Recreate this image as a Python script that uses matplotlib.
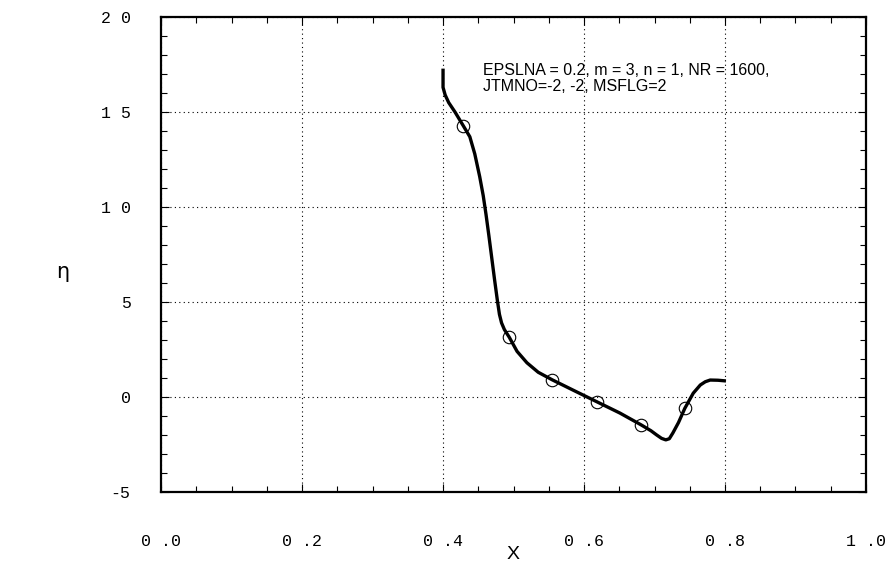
import matplotlib
matplotlib.use("Agg")
import matplotlib.pyplot as plt
from matplotlib.ticker import MultipleLocator

# eta(x) profile, sampled along the solid curve
x_curve = [0.400, 0.400, 0.403, 0.408, 0.417, 0.429, 0.438, 0.445, 0.452,
           0.457, 0.461, 0.465, 0.469, 0.473, 0.477, 0.480, 0.483, 0.487,
           0.494, 0.505, 0.519, 0.535, 0.555, 0.585, 0.618, 0.651, 0.681,
           0.695, 0.703, 0.710, 0.716, 0.721, 0.726, 0.734, 0.743, 0.755,
           0.765, 0.772, 0.779, 0.790, 0.799]
y_curve = [17.2, 16.3, 15.9, 15.5, 15.0, 14.26, 13.7, 12.8, 11.6,
           10.6, 9.6, 8.5, 7.35, 6.2, 5.1, 4.35, 3.9, 3.55,
           3.14, 2.4, 1.8, 1.3, 0.9, 0.35, -0.25, -0.85, -1.47,
           -1.78, -2.0, -2.18, -2.26, -2.2, -1.9, -1.35, -0.6, 0.2,
           0.63, 0.8, 0.89, 0.88, 0.85]

# marker points along the curve
x_marks = [0.429, 0.494, 0.555, 0.618, 0.681, 0.743]
y_marks = [14.26, 3.14, 0.9, -0.25, -1.47, -0.6]

xticks = [0.0, 0.2, 0.4, 0.6, 0.8, 1.0]
xtick_labels = ["0 .0", "0 .2", "0 .4", "0 .6", "0 .8", "1 .0"]
yticks = [-5, 0, 5, 10, 15, 20]
ytick_labels = ["-5", "0", "5", "1 0", "1 5", "2 0"]

fig = plt.figure(figsize=(8.9, 5.7), dpi=100)
ax = fig.add_axes([0.181, 0.137, 0.792, 0.833])

ax.plot(x_curve, y_curve, color="black", lw=2.4, solid_joinstyle="round")
ax.plot(x_marks, y_marks, "o", ms=9, mfc="none", mec="black", mew=0.8)

ax.set_xlim(0, 1)
ax.set_ylim(-5, 20)
ax.set_xticks(xticks)
ax.set_xticklabels(xtick_labels, family="Liberation Mono", fontsize=12)
ax.set_yticks(yticks)
ax.set_yticklabels(ytick_labels, family="Liberation Mono", fontsize=12)
ax.xaxis.set_minor_locator(MultipleLocator(0.05))
ax.yaxis.set_minor_locator(MultipleLocator(1))
ax.tick_params(which="both", direction="in", top=True, right=True, width=0.8)
ax.tick_params(which="major", length=6)
ax.tick_params(which="minor", length=4)
ax.tick_params(axis="x", which="major", pad=30)
ax.tick_params(axis="y", which="major", pad=22)

ax.grid(True, which="major", color="black", ls=(0, (1, 3)), lw=0.8)
for s in ax.spines.values():
    s.set_linewidth(1.6)

ax.text(0.457, 17.6, "EPSLNA = 0.2, m = 3, n = 1, NR = 1600,\nJTMNO=-2, -2, MSFLG=2",
        fontsize=11.5, va="top", ha="left", linespacing=1.1,
        family="Liberation Sans")

ax.set_xlabel("X", fontsize=14, labelpad=-2, family="Liberation Sans")
fig.text(0.07, 0.523, "η", fontsize=15, ha="center", va="center")

fig.savefig("out.png", dpi=100)
